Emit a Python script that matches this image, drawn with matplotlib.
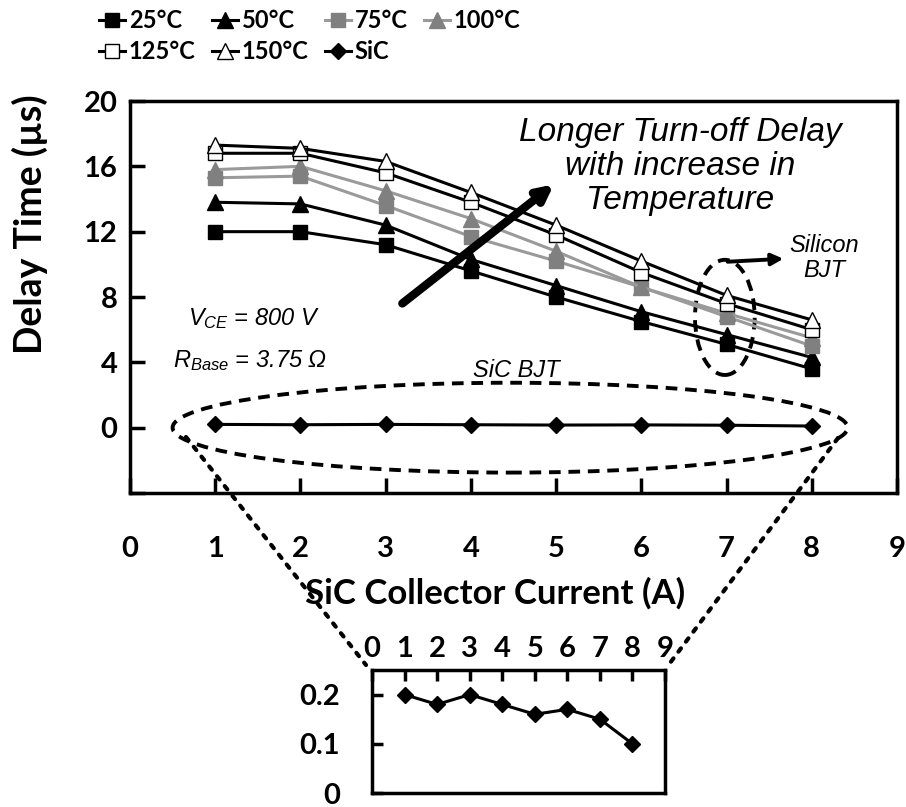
import matplotlib
matplotlib.use("Agg")
import matplotlib.pyplot as plt
from matplotlib.patches import Ellipse
from matplotlib.lines import Line2D

plt.rcParams['font.family'] = ['Lato', 'DejaVu Sans']
plt.rcParams['mathtext.fontset'] = 'custom'
plt.rcParams['mathtext.it'] = 'Liberation Sans:italic'
plt.rcParams['mathtext.rm'] = 'Liberation Sans:italic'

current = [1, 2, 3, 4, 5, 6, 7, 8]
t25 = [12.0, 12.0, 11.2, 9.6, 8.0, 6.5, 5.1, 3.6]
t50 = [13.8, 13.7, 12.4, 10.3, 8.7, 7.1, 5.7, 4.3]
t75 = [15.3, 15.4, 13.6, 11.7, 10.2, 8.6, 6.8, 5.0]
t100 = [15.8, 16.0, 14.5, 12.8, 10.8, 8.6, 7.0, 5.5]
t125 = [16.8, 16.8, 15.6, 13.8, 11.8, 9.5, 7.6, 6.0]
t150 = [17.3, 17.1, 16.3, 14.4, 12.4, 10.2, 8.1, 6.6]
sic = [0.20, 0.18, 0.20, 0.18, 0.16, 0.17, 0.15, 0.10]

fig = plt.figure(figsize=(9.06, 8.07), dpi=100)
ax = fig.add_axes([130/906, 1-493/807, 767/906, 392/807])

lw = 2.2
h = {}
h['25'] = ax.plot(current, t25, '-s', color='black', lw=lw, ms=10, mfc='black', mec='black', label='25°C')[0]
h['50'] = ax.plot(current, t50, '-^', color='black', lw=lw, ms=11, mfc='black', mec='black', label='50°C')[0]
h['75'] = ax.plot(current, t75, '-s', color='#9a9a9a', lw=lw, ms=10, mfc='#808080', mec='#808080', label='75°C')[0]
h['100'] = ax.plot(current, t100, '-^', color='#9a9a9a', lw=lw, ms=11, mfc='#808080', mec='#808080', label='100°C')[0]
h['125'] = ax.plot(current, t125, '-s', color='black', lw=lw, ms=10, mfc='white', mec='black', mew=1, label='125°C')[0]
h['150'] = ax.plot(current, t150, '-^', color='black', lw=lw, ms=11, mfc='white', mec='black', mew=1, label='150°C')[0]
h['sic'] = ax.plot(current, sic, '-D', color='black', lw=lw, ms=8, mfc='black', mec='black', label='SiC')[0]

ax.set_xlim(0, 9)
ax.set_ylim(-4, 20)
ax.set_xticks(range(0, 10))
ax.set_yticks([-4, 0, 4, 8, 12, 16, 20])
ax.set_yticklabels(['', '0', '4', '8', '12', '16', '20'])
ax.tick_params(direction='in', length=11, width=2.5, labelsize=21, pad=9)
ax.tick_params(axis='x', pad=31)
for lab in ax.get_xticklabels() + ax.get_yticklabels():
    lab.set_fontweight('bold')
for s in ax.spines.values():
    s.set_linewidth(2.5)
ax.set_ylabel('Delay Time (µs)', fontsize=27, fontweight='bold')
ax.yaxis.set_label_coords(-0.107, 0.685)
ax.set_xlabel('SiC Collector Current (A)', fontsize=25, fontweight='bold')
ax.xaxis.set_label_coords(0.476, -0.215)

it = dict(family=['Liberation Sans', 'DejaVu Sans'], style='italic')
ax.text(6.46, 16.0, 'Longer Turn-off Delay\nwith increase in\nTemperature', fontsize=24,
        ha='center', va='center', linespacing=1.12, **it)
ax.annotate('', xy=(5.0, 15.0), xytext=(3.17, 7.5),
            arrowprops=dict(arrowstyle='-|>,head_length=0.9,head_width=0.45', lw=6, color='black'))
ax.text(0.68, 6.26, r'$V_{CE}$ = 800 V', fontsize=17, va='baseline', **it)
ax.text(0.5, 3.68, r'$R_{Base}$ = 3.75 Ω', fontsize=17, va='baseline', **it)
ax.text(4.53, 3.1, 'SiC BJT', fontsize=17, ha='center', va='baseline', **it)
ax.text(8.15, 10.4, 'Silicon\nBJT', fontsize=17, ha='center', va='center', linespacing=1.1, **it)

ax.add_patch(Ellipse((6.98, 6.75), 0.7, 7.05, fill=False, ls=(0, (3, 2)), lw=2.8, color='black'))
ax.annotate('', xy=(7.7, 10.35), xytext=(6.98, 10.15),
            arrowprops=dict(arrowstyle='-|>,head_length=0.7,head_width=0.35', lw=2.8, color='black'))
ax.add_patch(Ellipse((4.46, 0.0), 7.92, 5.5, fill=False, ls=(0, (3, 2)), lw=2.8, color='black'))

order = ['25', '125', '50', '150', '75', 'sic', '100']
fig.legend([h[k] for k in order], [h[k].get_label() for k in order], ncol=4,
           loc='upper left', bbox_to_anchor=(78/906, 1.015), frameon=False,
           prop=dict(weight='bold', size=17), handlelength=1.1, handletextpad=0.15,
           columnspacing=0.7, labelspacing=0.35)

# inset with SiC values
ins = fig.add_axes([372/906, 1-793/807, 293/906, 123/807])
ins.plot(current, sic, '-D', color='black', lw=lw, ms=8)
ins.set_xlim(0, 9)
ins.set_ylim(0, 0.25)
ins.set_xticks(range(0, 10))
ins.set_yticks([0, 0.1, 0.2])
ins.set_yticklabels(['0', '0.1', '0.2'])
ins.xaxis.tick_top()
ins.tick_params(direction='in', length=8, width=2.5, labelsize=21)
ins.tick_params(axis='y', pad=23)
ins.tick_params(axis='x', pad=6)
for lab in ins.get_xticklabels() + ins.get_yticklabels():
    lab.set_fontweight('bold')
for s in ins.spines.values():
    s.set_linewidth(2.5)

# dotted connectors from the ellipse to the inset
fig.add_artist(Line2D([186/906, 366/906], [1-437/807, 1-665/807], transform=fig.transFigure,
                      ls=(0, (1, 2)), lw=3, color='black', dash_capstyle='round'))
fig.add_artist(Line2D([838/906, 670/906], [1-438/807, 1-663/807], transform=fig.transFigure,
                      ls=(0, (1, 2)), lw=3, color='black', dash_capstyle='round'))

fig.savefig('out.png', dpi=100)
